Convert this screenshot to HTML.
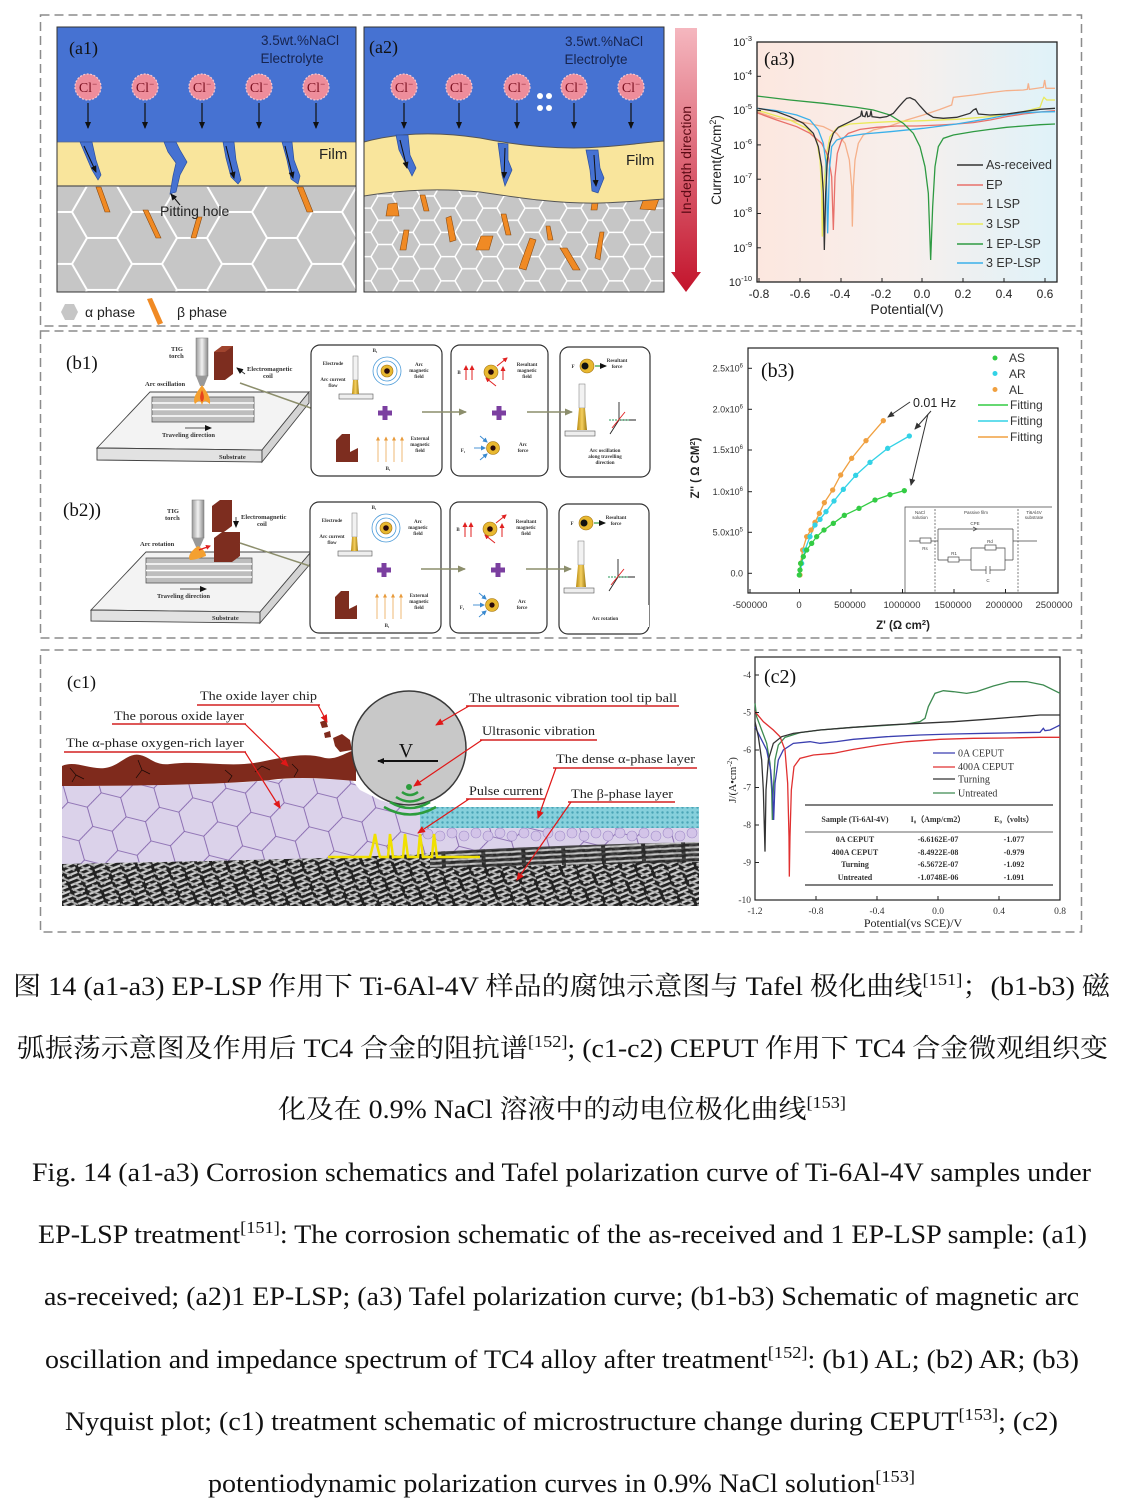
<!DOCTYPE html>
<html><head><meta charset="utf-8">
<style>
html,body{margin:0;padding:0;background:#fff;}
svg{display:block;}
.s{font-family:"Liberation Sans",sans-serif;}
.r{font-family:"Liberation Serif",serif;}
.cn{font-family:"Liberation Serif","Noto Serif CJK SC",serif;}
g.sc *{vector-effect:non-scaling-stroke;}
</style></head><body>
<svg width="1132" height="1505" viewBox="0 0 1132 1505" xmlns="http://www.w3.org/2000/svg">
<defs>
 <pattern id="hexA" width="90" height="51.96" patternUnits="userSpaceOnUse" x="57" y="186">
  <path d="M30,0 L60,0 L75,25.98 L60,51.96 L30,51.96 L15,25.98 Z M0,25.98 L15,25.98 M75,25.98 L90,25.98" fill="none" stroke="#fff" stroke-width="2"/>
 </pattern>
 <pattern id="hexB" width="42" height="24.25" patternUnits="userSpaceOnUse" x="364" y="196">
  <path d="M14,0 L28,0 L35,12.12 L28,24.25 L14,24.25 L7,12.12 Z M0,12.12 L7,12.12 M35,12.12 L42,12.12" fill="none" stroke="#fff" stroke-width="1.5"/>
 </pattern>
 <pattern id="grain" width="60" height="34.64" patternUnits="userSpaceOnUse" patternTransform="rotate(14)">
  <rect width="60" height="34.64" fill="#dbd2ea"/>
  <path d="M20,0 L40,0 L50,17.32 L40,34.64 L20,34.64 L10,17.32 Z M0,17.32 L10,17.32 M50,17.32 L60,17.32" fill="none" stroke="#7b5aa6" stroke-width="0.8"/>
 </pattern>
 <pattern id="rods1" width="14" height="5" patternUnits="userSpaceOnUse" patternTransform="rotate(-22)">
  <rect width="14" height="5" fill="#222"/>
  <rect x="0" y="1.3" width="11" height="2.2" fill="#cfcfcf"/>
 </pattern>
 <pattern id="rods2" width="17" height="6" patternUnits="userSpaceOnUse" patternTransform="rotate(24)">
  <rect x="2" y="1.8" width="12" height="1.8" fill="#b0b0b0"/>
 </pattern>
 <pattern id="rods3" width="40" height="5" patternUnits="userSpaceOnUse" patternTransform="rotate(-3)">
  <rect width="40" height="5" fill="#2a2a2a"/>
  <rect x="0" y="1.4" width="36" height="2" fill="#c8c8c8"/>
 </pattern>
 <pattern id="dense" width="5" height="5" patternUnits="userSpaceOnUse">
  <rect width="5" height="5" fill="#86d0dc"/>
  <circle cx="2.5" cy="2.5" r="1.2" fill="#4aa4b6"/>
 </pattern>
 <linearGradient id="redArrow" x1="0" y1="0" x2="0" y2="1">
  <stop offset="0" stop-color="#f5b7bf"/><stop offset="1" stop-color="#c3142c"/>
 </linearGradient>
 <linearGradient id="a3bg" x1="0" y1="0" x2="1" y2="0">
  <stop offset="0" stop-color="#fce7df"/><stop offset="0.5" stop-color="#f7efec"/><stop offset="1" stop-color="#dff2f9"/>
 </linearGradient>
 <linearGradient id="torch" x1="0" y1="0" x2="1" y2="0">
  <stop offset="0" stop-color="#9a9a9a"/><stop offset="0.5" stop-color="#f2f2f2"/><stop offset="1" stop-color="#8a8a8a"/>
 </linearGradient>
 <linearGradient id="gold" x1="0" y1="0" x2="1" y2="0">
  <stop offset="0" stop-color="#b88a10"/><stop offset="0.5" stop-color="#f5d060"/><stop offset="1" stop-color="#a07a10"/>
 </linearGradient>
 <clipPath id="clA1"><rect x="57" y="27" width="299" height="265"/></clipPath>
 <clipPath id="clA2"><rect x="364" y="27" width="300" height="265"/></clipPath>
 <clipPath id="clC1"><rect x="62" y="680" width="637" height="226"/></clipPath>
 <marker id="ahK" markerUnits="userSpaceOnUse" markerWidth="7" markerHeight="7" refX="6" refY="3.5" orient="auto"><path d="M0,0.5 L7,3.5 L0,6.5 Z" fill="#111"/></marker>
 <marker id="ahR" markerUnits="userSpaceOnUse" markerWidth="8" markerHeight="8" refX="7" refY="4" orient="auto"><path d="M0,0.5 L8,4 L0,7.5 Z" fill="#e01818"/></marker>
 <marker id="ahG" markerUnits="userSpaceOnUse" markerWidth="8" markerHeight="8" refX="7" refY="4" orient="auto"><path d="M0,0.5 L8,4 L0,7.5 Z" fill="#8c8e6c"/></marker>
 <marker id="ahD" markerUnits="userSpaceOnUse" markerWidth="7" markerHeight="7" refX="6" refY="3.5" orient="auto"><path d="M0,0.5 L7,3.5 L0,6.5 Z" fill="#333"/></marker>
 <marker id="ahO" markerUnits="userSpaceOnUse" markerWidth="4" markerHeight="4" refX="3.5" refY="2" orient="auto"><path d="M0,0 L4,2 L0,4 Z" fill="#e89a3a"/></marker>
 <marker id="ahRs" markerUnits="userSpaceOnUse" markerWidth="5" markerHeight="5" refX="4" refY="2.5" orient="auto"><path d="M0,0 L5,2.5 L0,5 Z" fill="#e02020"/></marker>
 <marker id="ahB" markerUnits="userSpaceOnUse" markerWidth="5" markerHeight="5" refX="4" refY="2.5" orient="auto"><path d="M0,0 L5,2.5 L0,5 Z" fill="#3a8ad0"/></marker>
</defs>

<!-- dashed frames -->
<g fill="none" stroke="#8c8c8c" stroke-width="1.5" stroke-dasharray="9,5">
 <rect x="40.5" y="15" width="1041" height="311"/>
 <rect x="40.5" y="331" width="1041" height="307"/>
 <rect x="40.5" y="650" width="1041" height="282"/>
</g>

<!-- ===== a1 ===== -->
<g clip-path="url(#clA1)">
 <rect x="57" y="27" width="299" height="265" fill="#c6c6c6"/>
 <rect x="57" y="186" width="299" height="106" fill="url(#hexA)"/>
 <rect x="57" y="27" width="299" height="116" fill="#4672d2"/>
 <rect x="57" y="142" width="299" height="44" fill="#f9e59c"/>
 <line x1="57" y1="142" x2="356" y2="142" stroke="#5a6a8a" stroke-width="0.8"/>
 <line x1="57" y1="186" x2="356" y2="186" stroke="#555" stroke-width="1.2"/>
 <g fill="#4672d2" stroke="#2b4f9e" stroke-width="0.7">
  <path d="M80,142 L92,142 L96,160 L101,175 L98,180 L92,170 L86,156 Z"/>
  <path d="M164,142 L176,142 L180,150 L187,162 L180,175 L176,192 L170,194 L173,176 L176,163 L168,152 Z"/>
  <path d="M223,142 L234,142 L236,160 L241,180 L238,184 L231,177 L226,158 Z"/>
  <path d="M282,142 L292,142 L294,160 L300,176 L298,184 L291,179 L287,160 Z"/>
 </g>
 <g fill="#f08a24" stroke="#8a4a10" stroke-width="0.6">
  <path d="M96,187 L101,187 L110,212 L105,212 Z"/>
  <path d="M143,210 L148,210 L161,238 L156,238 Z"/>
  <path d="M197,217 L202,217 L196,238 L191,238 Z"/>
  <path d="M297,187 L303,187 L313,212 L307,212 Z"/>
 </g>
 <g stroke="#111" stroke-width="1" marker-end="url(#ahK)">
  <line x1="84" y1="146" x2="96" y2="172"/>
  <line x1="226" y1="146" x2="234" y2="178"/>
  <line x1="285" y1="146" x2="293" y2="178"/>
  <line x1="180" y1="205" x2="171" y2="194"/>
 </g>
</g>
<rect x="57" y="27" width="299" height="265" fill="none" stroke="#333" stroke-width="1"/>
<text class="r" x="69" y="54" font-size="18" fill="#111">(a1)</text>
<text class="s" x="300" y="45" font-size="13.5" fill="#17244e" text-anchor="middle">3.5wt.%NaCl</text>
<text class="s" x="292" y="63" font-size="13.5" fill="#17244e" text-anchor="middle">Electrolyte</text>
<text class="s" x="319" y="159" font-size="15" fill="#222">Film</text>
<text class="s" x="160" y="216" font-size="14" fill="#222">Pitting hole</text>

<!-- ===== a2 ===== -->
<g clip-path="url(#clA2)">
 <rect x="364" y="27" width="300" height="265" fill="#c6c6c6"/>
 <rect x="364" y="150" width="300" height="142" fill="url(#hexB)"/>
 <g fill="#f08a24" stroke="#8a4a10" stroke-width="0.6">
  <path d="M388,204 L397,203 L399,216 L386,216 Z"/>
  <path d="M420,195 L425,195 L429,211 L424,211 Z"/>
  <path d="M446,218 L451,216 L456,240 L450,242 Z"/>
  <path d="M404,230 L409,230 L406,250 L400,250 Z"/>
  <path d="M481,236 L493,236 L489,250 L476,250 Z"/>
  <path d="M501,214 L506,214 L511,235 L506,235 Z"/>
  <path d="M530,238 L536,240 L526,270 L519,268 Z"/>
  <path d="M546,226 L550,226 L553,240 L548,240 Z"/>
  <path d="M560,248 L567,248 L580,270 L573,270 Z"/>
  <path d="M600,232 L604,232 L600,260 L595,258 Z"/>
  <path d="M644,198 L660,196 L655,210 L640,209 Z"/>
  <path d="M592,203 L598,203 L597,210 L591,210 Z"/>
 </g>
 <path d="M364,27 H664 V141 C650,142 630,145 600,147 C560,150 520,146 480,138 C440,132 400,132 364,142 Z" fill="#4672d2"/>
 <path d="M364,142 C400,132 440,132 480,138 C520,146 560,150 600,147 C630,145 650,142 664,141 L664,199 C650,200 630,202 600,203 C560,204 520,198 480,192 C440,188 400,190 364,196 Z" fill="#f9e59c" stroke="#555" stroke-width="1"/>
 <g fill="#4672d2" stroke="#2b4f9e" stroke-width="0.7">
  <path d="M396,135 L408,135 L410,155 L416,168 L412,176 L405,162 L399,150 Z"/>
  <path d="M498,143 L508,144 L508,160 L512,170 L505,186 L502,175 L500,158 Z"/>
  <path d="M586,150 L598,150 L600,168 L604,178 L598,193 L592,191 L590,170 Z"/>
 </g>
 <g stroke="#111" stroke-width="1" marker-end="url(#ahK)">
  <line x1="400" y1="140" x2="407" y2="168"/>
  <line x1="505" y1="148" x2="504" y2="178"/>
  <line x1="594" y1="155" x2="596" y2="186"/>
 </g>
 <g fill="#fff"><circle cx="540" cy="96" r="3"/><circle cx="549" cy="96" r="3"/><circle cx="540" cy="108" r="3"/><circle cx="549" cy="108" r="3"/></g>
</g>
<rect x="364" y="27" width="300" height="265" fill="none" stroke="#333" stroke-width="1"/>
<text class="r" x="369" y="53" font-size="18" fill="#111">(a2)</text>
<text class="s" x="604" y="46" font-size="13.5" fill="#17244e" text-anchor="middle">3.5wt.%NaCl</text>
<text class="s" x="596" y="64" font-size="13.5" fill="#17244e" text-anchor="middle">Electrolyte</text>
<text class="s" x="626" y="165" font-size="15" fill="#222">Film</text>

<!-- Cl circles a1 & a2 -->
<g>
 <g fill="#ee8d9b" stroke="#f8c8cf" stroke-width="1.2" stroke-dasharray="2,1.5">
  <circle cx="88" cy="87" r="13"/><circle cx="145" cy="87" r="13"/><circle cx="202" cy="87" r="13"/><circle cx="259" cy="87" r="13"/><circle cx="316" cy="87" r="13"/>
  <circle cx="404" cy="87" r="13"/><circle cx="459" cy="87" r="13"/><circle cx="517" cy="87" r="13"/><circle cx="574" cy="87" r="13"/><circle cx="631" cy="87" r="13"/>
 </g>
 <g class="r" font-size="14" fill="#7a1020" text-anchor="middle">
  <text x="88" y="92">Cl<tspan font-size="9" dy="-5">−</tspan></text>
  <text x="145" y="92">Cl<tspan font-size="9" dy="-5">−</tspan></text>
  <text x="202" y="92">Cl<tspan font-size="9" dy="-5">−</tspan></text>
  <text x="259" y="92">Cl<tspan font-size="9" dy="-5">−</tspan></text>
  <text x="316" y="92">Cl<tspan font-size="9" dy="-5">−</tspan></text>
  <text x="404" y="92">Cl<tspan font-size="9" dy="-5">−</tspan></text>
  <text x="459" y="92">Cl<tspan font-size="9" dy="-5">−</tspan></text>
  <text x="517" y="92">Cl<tspan font-size="9" dy="-5">−</tspan></text>
  <text x="574" y="92">Cl<tspan font-size="9" dy="-5">−</tspan></text>
  <text x="631" y="92">Cl<tspan font-size="9" dy="-5">−</tspan></text>
 </g>
</g>

<!-- arrows down in a1/a2 -->
<g stroke="#111" stroke-width="1.2" marker-end="url(#ahK)">
 <line x1="88" y1="103" x2="88" y2="128"/><line x1="145" y1="103" x2="145" y2="128"/><line x1="202" y1="103" x2="202" y2="128"/><line x1="259" y1="103" x2="259" y2="128"/><line x1="316" y1="103" x2="316" y2="128"/>
 <line x1="404" y1="103" x2="404" y2="128"/><line x1="459" y1="103" x2="459" y2="128"/><line x1="517" y1="103" x2="517" y2="128"/><line x1="574" y1="103" x2="574" y2="128"/><line x1="631" y1="103" x2="631" y2="128"/>
</g>

<!-- in-depth arrow -->
<path d="M675,28 L697,28 L697,272 L701,272 L686,292 L671,272 L675,272 Z" fill="url(#redArrow)"/>
<text class="s" transform="translate(691,160) rotate(-90)" font-size="14" fill="#5a0a14" text-anchor="middle">In-depth direction</text>

<!-- legend a -->
<path d="M61,312 L65,304 L74,304 L78,312 L74,320 L65,320 Z" fill="#c6c6c6"/>
<text class="s" x="85" y="317" font-size="14" fill="#222">α phase</text>
<path d="M147,299 L152,298 L163,323 L158,325 Z" fill="#f08a24"/>
<text class="s" x="177" y="317" font-size="14" fill="#222">β phase</text>

<!-- ===== a3 chart ===== -->
<rect x="757" y="42" width="300" height="240" fill="url(#a3bg)"/>
<g class="sc" transform="translate(690,20) scale(0.33333)" fill="none" stroke-width="1.3">
 <polyline stroke="#f5b08a" points="200,275 260,295 330,305 400,320 440,340 465,370 478,420 485,500 487,620 490,500 495,420 505,370 520,345 550,330 600,318 650,300 700,285 750,268 785,255 790,232 850,225 900,218 950,212 1000,210 1012,208 1015,190 1018,208 1060,202 1064,180 1068,205 1095,205"/>
 <polyline stroke="#eaea5a" points="200,270 250,285 300,300 350,325 380,360 390,420 395,520 397,650 400,520 410,400 420,350 440,325 480,312 540,308 600,305 700,302 800,298 900,290 1000,275 1050,262 1058,240 1062,232 1070,240 1095,240"/>
 <polyline stroke="#e8706a" points="200,278 260,300 320,320 360,340 395,370 415,410 425,470 430,630 435,470 442,400 455,360 475,340 510,328 560,322 620,318 680,318 750,315 800,312 850,308 900,300 950,290 1000,282 1050,276 1095,272"/>
 <polyline stroke="#3ab0ea" points="200,265 260,272 320,285 360,300 385,330 400,370 408,430 413,640 418,450 425,380 440,360 470,350 520,342 600,335 700,325 800,312 900,295 950,285 1000,278 1050,276 1095,275"/>
 <polyline stroke="#2e9a42" points="200,228 300,240 400,250 500,262 550,270 600,285 640,310 670,340 690,380 705,440 715,520 722,720 728,560 735,440 745,380 760,355 790,345 850,335 900,328 950,322 1000,318 1050,314 1095,312"/>
 <polyline stroke="#333" points="205,265 260,275 300,290 340,310 370,340 385,380 395,440 400,520 403,690 407,520 412,420 420,370 430,340 445,322 470,310 500,295 512,288 515,272 518,288 525,290 530,274 533,290 540,288 543,272 546,290 570,293 590,290 610,280 625,262 640,245 650,235 660,233 668,237 675,240 690,258 710,280 730,292 760,295 800,292 840,280 850,270 858,266 865,282 900,285 950,282 1000,275 1050,268 1095,265"/>
</g>
<rect x="757" y="42" width="300" height="240" fill="none" stroke="#222" stroke-width="1.3"/>
<g stroke="#222" stroke-width="1">
 <line x1="759" y1="282" x2="759" y2="278"/><line x1="800" y1="282" x2="800" y2="278"/><line x1="841" y1="282" x2="841" y2="278"/><line x1="882" y1="282" x2="882" y2="278"/><line x1="922" y1="282" x2="922" y2="278"/><line x1="963" y1="282" x2="963" y2="278"/><line x1="1004" y1="282" x2="1004" y2="278"/><line x1="1045" y1="282" x2="1045" y2="278"/>
 <line x1="757" y1="76.3" x2="761" y2="76.3"/><line x1="757" y1="110.6" x2="761" y2="110.6"/><line x1="757" y1="144.9" x2="761" y2="144.9"/><line x1="757" y1="179.2" x2="761" y2="179.2"/><line x1="757" y1="213.5" x2="761" y2="213.5"/><line x1="757" y1="247.8" x2="761" y2="247.8"/>
</g>
<g class="s" font-size="11" fill="#222" text-anchor="end">
 <text x="752" y="46">10<tspan font-size="7.5" dy="-5">-3</tspan></text>
 <text x="752" y="80">10<tspan font-size="7.5" dy="-5">-4</tspan></text>
 <text x="752" y="114">10<tspan font-size="7.5" dy="-5">-5</tspan></text>
 <text x="752" y="149">10<tspan font-size="7.5" dy="-5">-6</tspan></text>
 <text x="752" y="183">10<tspan font-size="7.5" dy="-5">-7</tspan></text>
 <text x="752" y="217">10<tspan font-size="7.5" dy="-5">-8</tspan></text>
 <text x="752" y="252">10<tspan font-size="7.5" dy="-5">-9</tspan></text>
 <text x="752" y="286">10<tspan font-size="7.5" dy="-5">-10</tspan></text>
</g>
<g class="s" font-size="12" fill="#222" text-anchor="middle">
 <text x="759" y="298">-0.8</text><text x="800" y="298">-0.6</text><text x="840" y="298">-0.4</text><text x="881" y="298">-0.2</text><text x="922" y="298">0.0</text><text x="963" y="298">0.2</text><text x="1004" y="298">0.4</text><text x="1045" y="298">0.6</text>
</g>
<text class="s" x="907" y="314" font-size="14" fill="#222" text-anchor="middle">Potential(V)</text>
<text class="s" transform="translate(721,160) rotate(-90)" font-size="13.5" fill="#222" text-anchor="middle">Current(A/cm<tspan font-size="9" dy="-5">2</tspan><tspan dy="5">)</tspan></text>
<text class="r" x="764" y="65" font-size="19" fill="#111">(a3)</text>
<g stroke-width="1.6">
 <line x1="957" y1="165" x2="983" y2="165" stroke="#333"/>
 <line x1="957" y1="185" x2="983" y2="185" stroke="#e8706a"/>
 <line x1="957" y1="204" x2="983" y2="204" stroke="#f5b08a"/>
 <line x1="957" y1="224" x2="983" y2="224" stroke="#eaea5a"/>
 <line x1="957" y1="244" x2="983" y2="244" stroke="#2e9a42"/>
 <line x1="957" y1="263" x2="983" y2="263" stroke="#3ab0ea"/>
</g>
<g class="s" font-size="12.5" fill="#333">
 <text x="986" y="169">As-received</text><text x="986" y="189">EP</text><text x="986" y="208">1 LSP</text><text x="986" y="228">3 LSP</text><text x="986" y="248">1 EP-LSP</text><text x="986" y="267">3 EP-LSP</text>
</g>

<!-- ===== b1 / b2 ===== -->
<text class="r" x="66" y="369" font-size="19" fill="#111">(b1)</text>
<text class="r" x="63" y="516" font-size="19" fill="#111">(b2))</text>

<!-- b1 slab -->
<path d="M97,448 L150,392 L309,392 L262,450 Z" fill="#f3f3f3" stroke="#444" stroke-width="0.9"/>
<path d="M97,448 L262,450 L262,462 L97,460 Z" fill="#e2e2e2" stroke="#444" stroke-width="0.9"/>
<path d="M262,450 L309,392 L309,403 L262,462 Z" fill="#d4d4d4" stroke="#444" stroke-width="0.9"/>
<rect x="152" y="397" width="102" height="25" fill="#bdbdbd" stroke="#555" stroke-width="0.8"/>
<g stroke="#fff" stroke-width="1.5"><line x1="152" y1="403" x2="254" y2="403"/><line x1="152" y1="409.5" x2="254" y2="409.5"/><line x1="152" y1="416" x2="254" y2="416"/></g>
<line x1="185" y1="428" x2="211" y2="428" stroke="#222" stroke-width="0.8" marker-end="url(#ahK)"/>
<g class="r" font-weight="bold" font-size="6.5" fill="#333">
 <text x="162" y="437">Traveling direction</text>
 <text x="219" y="459">Substrate</text>
 <text x="171" y="351">TIG</text><text x="169" y="358">torch</text>
 <text x="247" y="371">Electromagnetic</text><text x="263" y="378">coil</text>
 <text x="145" y="386">Arc oscillation</text>
</g>
<rect x="196" y="338" width="12" height="38" fill="url(#torch)" stroke="#777" stroke-width="0.5"/>
<path d="M196,376 L208,376 L204,386 L200,386 Z" fill="#999"/>
<path d="M202,385 C197,392 192,398 195,404 C198,401 200,399 202,405 C204,399 206,401 210,404 C211,397 206,391 202,385 Z" fill="#f4a030"/>
<path d="M202,390 C200,395 199,399 202,402 C205,399 204,395 202,390 Z" fill="#e5431e"/>
<path d="M214,352 L222,346 L233,346 L233,374 L225,380 L214,380 Z" fill="#7d2d1f"/>
<path d="M214,352 L222,346 L233,346 L225,352 Z" fill="#a0442e"/>
<line x1="245" y1="374" x2="237" y2="368" stroke="#222" stroke-width="0.8" marker-end="url(#ahK)"/>
<line x1="240" y1="383" x2="322" y2="412" stroke="#8c8e6c" stroke-width="1.5" marker-end="url(#ahG)"/>

<!-- b2 slab -->
<path d="M91,610 L146,552 L311,552 L260,612 Z" fill="#f3f3f3" stroke="#444" stroke-width="0.9"/>
<path d="M91,610 L260,612 L260,623 L91,621 Z" fill="#e2e2e2" stroke="#444" stroke-width="0.9"/>
<path d="M260,612 L311,552 L311,563 L260,623 Z" fill="#d4d4d4" stroke="#444" stroke-width="0.9"/>
<rect x="146" y="558" width="106" height="25" fill="#bdbdbd" stroke="#555" stroke-width="0.8"/>
<g stroke="#fff" stroke-width="1.5"><line x1="146" y1="564" x2="252" y2="564"/><line x1="146" y1="570.5" x2="252" y2="570.5"/><line x1="146" y1="577" x2="252" y2="577"/></g>
<line x1="180" y1="589" x2="206" y2="589" stroke="#222" stroke-width="0.8" marker-end="url(#ahK)"/>
<g class="r" font-weight="bold" font-size="6.5" fill="#333">
 <text x="157" y="598">Traveling direction</text>
 <text x="212" y="620">Substrate</text>
 <text x="167" y="513">TIG</text><text x="165" y="520">torch</text>
 <text x="241" y="519">Electromagnetic</text><text x="257" y="526">coil</text>
 <text x="140" y="546">Arc rotation</text>
</g>
<rect x="192" y="500" width="12" height="38" fill="url(#torch)" stroke="#777" stroke-width="0.5"/>
<path d="M192,538 L204,538 L200,547 L196,547 Z" fill="#999"/>
<path d="M198,546 C192,550 187,556 190,560 C195,560 200,558 206,556 C206,552 202,548 198,546 Z" fill="#f4a030"/>
<path d="M199,550 L210,546" stroke="#e02020" stroke-width="1.2" marker-end="url(#ahRs)"/>
<path d="M212,506 L220,500 L232,500 L232,526 L224,532 L212,532 Z" fill="#7d2d1f"/>
<path d="M214,538 L222,532 L240,532 L240,556 L232,562 L214,562 Z" fill="#7d2d1f"/>
<line x1="236" y1="517" x2="236" y2="527" stroke="#222" stroke-width="0.8" marker-end="url(#ahK)"/>
<line x1="240" y1="543" x2="322" y2="570" stroke="#8c8e6c" stroke-width="1.5" marker-end="url(#ahG)"/>

<!-- boxes -->
<g id="bx">
 <g fill="#fff" stroke="#333" stroke-width="1.2">
  <rect x="311" y="345" width="131" height="131" rx="9"/>
  <rect x="451" y="345" width="97" height="131" rx="9"/>
  <rect x="560" y="347" width="90" height="130" rx="9"/>
 </g>
 <rect x="339" y="394" width="34" height="5" fill="#eee" stroke="#555" stroke-width="0.6"/>
 <rect x="353" y="356" width="5" height="24" fill="#f2f2f2" stroke="#777" stroke-width="0.5"/>
 <path d="M353,380 L358,380 L359,394 L352,394 Z" fill="url(#gold)"/>
 <circle cx="387" cy="371" r="14" fill="none" stroke="#4a9ad8" stroke-width="0.8"/>
 <circle cx="387" cy="371" r="10" fill="none" stroke="#4a9ad8" stroke-width="0.8"/>
 <circle cx="387" cy="371" r="6" fill="#e8b830" stroke="#a07010" stroke-width="0.6"/>
 <circle cx="387" cy="371" r="2.8" fill="#2a0a0a"/>
 <path d="M378,410.5 H392 V415.5 H378 Z M382.5,406 H387.5 V420 H382.5 Z" fill="#7b3fa0"/>
 <path d="M336,440 L342,434 L350,434 L350,452 L358,448 L358,462 L336,462 Z" fill="#7d2d1f"/>
 <g stroke="#e89a3a" stroke-width="0.7" marker-end="url(#ahO)">
  <line x1="378" y1="462" x2="378" y2="437"/><line x1="386" y1="462" x2="386" y2="437"/><line x1="394" y1="462" x2="394" y2="437"/><line x1="402" y1="462" x2="402" y2="437"/>
 </g>
 <g class="r" font-weight="bold" font-size="5" fill="#333" text-anchor="middle">
  <text x="333" y="365">Electrode</text><text x="333" y="381">Arc current</text><text x="333" y="387">flow</text>
  <text x="419" y="366">Arc</text><text x="419" y="372">magnetic</text><text x="419" y="378">field</text>
  <text x="420" y="440">External</text><text x="420" y="446">magnetic</text><text x="420" y="452">field</text>
  <text x="375" y="352">B₁</text><text x="388" y="470">B₁</text>
 </g>
 <line x1="422" y1="412" x2="466" y2="412" stroke="#8c8e6c" stroke-width="1.5" marker-end="url(#ahG)"/>
 <g stroke="#e02020" stroke-width="1" marker-end="url(#ahRs)">
  <line x1="466" y1="380" x2="466" y2="366"/><line x1="472" y1="380" x2="472" y2="366"/><line x1="503" y1="380" x2="503" y2="367"/>
  <line x1="497" y1="366" x2="507" y2="358"/><line x1="496" y1="386" x2="486" y2="378"/>
 </g>
 <circle cx="491" cy="372" r="7" fill="#e8b830" stroke="#a07010" stroke-width="0.6"/>
 <circle cx="491" cy="372" r="2.8" fill="#2a0a0a"/>
 <path d="M492,410.5 H506 V415.5 H492 Z M496.5,406 H501.5 V420 H496.5 Z" fill="#7b3fa0"/>
 <circle cx="493" cy="448" r="6.5" fill="#e8b830" stroke="#a07010" stroke-width="0.6"/>
 <circle cx="493" cy="448" r="2.6" fill="#2a0a0a"/>
 <g stroke="#3a8ad0" stroke-width="0.9" marker-end="url(#ahB)">
  <line x1="474" y1="448" x2="485" y2="448"/><line x1="480" y1="436" x2="487" y2="442"/><line x1="480" y1="460" x2="487" y2="454"/>
 </g>
 <g class="r" font-weight="bold" font-size="5" fill="#333" text-anchor="middle">
  <text x="527" y="366">Resultant</text><text x="527" y="372">magnetic</text><text x="527" y="378">field</text>
  <text x="523" y="446">Arc</text><text x="523" y="452">force</text>
  <text x="459" y="374">B</text><text x="463" y="452">F₁</text>
 </g>
 <line x1="527" y1="412" x2="572" y2="412" stroke="#8c8e6c" stroke-width="1.5" marker-end="url(#ahG)"/>
 <circle cx="587" cy="366" r="7" fill="#e8b830" stroke="#a07010" stroke-width="0.6"/>
 <circle cx="585" cy="366" r="3.5" fill="#111"/>
 <line x1="595" y1="366" x2="606" y2="366" stroke="#2a9a3a" stroke-width="1.2" marker-end="url(#ahK)"/>
 <rect x="579" y="384" width="6" height="24" fill="#f2f2f2" stroke="#777" stroke-width="0.5"/>
 <path d="M579,408 L585,408 L587,430 L577,430 Z" fill="url(#gold)"/>
 <rect x="565" y="431" width="30" height="5" fill="#eee" stroke="#555" stroke-width="0.6"/>
 <g stroke-width="0.9">
  <line x1="619" y1="420" x2="619" y2="402" stroke="#222"/>
  <line x1="619" y1="420" x2="636" y2="420" stroke="#222"/>
  <line x1="619" y1="420" x2="610" y2="434" stroke="#222"/>
  <line x1="609" y1="420" x2="629" y2="420" stroke="#2a9a5a" stroke-dasharray="2,1"/>
  <line x1="612" y1="428" x2="625" y2="412" stroke="#e02020"/>
 </g>
 <g class="r" font-weight="bold" font-size="5" fill="#333" text-anchor="middle">
  <text x="617" y="362">Resultant</text><text x="617" y="368">force</text>
  <text x="573" y="368">F</text>
  <text x="605" y="452">Arc oscillation</text><text x="605" y="458">along travelling</text><text x="605" y="464">direction</text>
 </g>
</g>
<use href="#bx" transform="translate(-1,157)"/>
<rect x="561" y="605" width="88" height="22" fill="#fff"/>
<text class="r" x="605" y="620" font-weight="bold" font-size="5" fill="#333" text-anchor="middle">Arc rotation</text>

<!-- ===== b3 chart ===== -->
<rect x="748" y="348" width="310" height="245" fill="#fff" stroke="#222" stroke-width="1.2"/>
<g stroke="#444" fill="none" stroke-width="0.7">
 <path d="M905,593 V507 H1052"/>
 <line x1="935" y1="509" x2="935" y2="593" stroke-dasharray="2,1.5"/>
 <line x1="1018" y1="509" x2="1018" y2="593" stroke-dasharray="2,1.5"/>
 <path d="M909,541 H938 M938,529 V560 M938,529 H1013 M1013,529 V560 M1013,541 H1037"/>
 <rect x="920" y="538" width="11" height="5" fill="#fff"/>
 <path d="M938,560 H948 M959,560 H971 M971,548 V570 M971,548 H985 M996,548 H1005 V570 M971,570 H986 M990,570 H1005 M1005,560 H1013"/>
 <rect x="948" y="557" width="11" height="5" fill="#fff"/>
 <rect x="985" y="545" width="11" height="5" fill="#fff"/>
 <path d="M986,566 V574 M990,566 V574"/>
 <path d="M973,527 L977,529 L973,531"/>
</g>
<g class="s" font-size="4.5" fill="#444" text-anchor="middle">
 <text x="920" y="514">NaCl</text><text x="920" y="519">solution</text>
 <text x="976" y="514">Passive film</text><text x="975" y="525">CPE</text>
 <text x="1034" y="514">Ti6Al4V</text><text x="1034" y="519">substrate</text>
 <text x="925" y="550">Rs</text><text x="954" y="555">R1</text><text x="990" y="543">Rd</text><text x="988" y="582">C</text>
</g>
<g class="sc" transform="translate(680,330) scale(0.33333)" stroke-width="1.3" fill="none">
 <polyline stroke="#f0a040" points="360,735 362,700 368,660 380,620 393,600 405,577 418,550 433,518 458,480 482,435 515,385 558,332 610,272"/>
 <polyline stroke="#33d2e6" points="360,735 365,700 375,660 390,620 405,585 420,568 438,545 462,513 490,478 527,436 570,397 623,355 688,318"/>
 <polyline stroke="#33cc44" points="358,735 360,720 362,700 370,680 380,660 395,640 410,620 432,600 460,580 493,556 537,535 585,510 630,494 673,482"/>
 <g fill="#f0a040" stroke="none">
  <circle cx="360" cy="735" r="8"/><circle cx="362" cy="700" r="8"/><circle cx="368" cy="660" r="8"/><circle cx="380" cy="620" r="8"/><circle cx="393" cy="600" r="8"/><circle cx="405" cy="577" r="8"/><circle cx="418" cy="550" r="8"/><circle cx="433" cy="518" r="8"/><circle cx="458" cy="480" r="8"/><circle cx="482" cy="435" r="8"/><circle cx="515" cy="385" r="8"/><circle cx="558" cy="332" r="8"/><circle cx="610" cy="272" r="8"/>
 </g>
 <g fill="#33d2e6" stroke="none">
  <circle cx="365" cy="700" r="8"/><circle cx="375" cy="660" r="8"/><circle cx="390" cy="620" r="8"/><circle cx="405" cy="585" r="8"/><circle cx="420" cy="568" r="8"/><circle cx="438" cy="545" r="8"/><circle cx="462" cy="513" r="8"/><circle cx="490" cy="478" r="8"/><circle cx="527" cy="436" r="8"/><circle cx="570" cy="397" r="8"/><circle cx="623" cy="355" r="8"/><circle cx="688" cy="318" r="8"/>
 </g>
 <g fill="#33cc44" stroke="none">
  <circle cx="358" cy="735" r="8"/><circle cx="360" cy="720" r="8"/><circle cx="362" cy="700" r="8"/><circle cx="370" cy="680" r="8"/><circle cx="380" cy="660" r="8"/><circle cx="395" cy="640" r="8"/><circle cx="410" cy="620" r="8"/><circle cx="432" cy="600" r="8"/><circle cx="460" cy="580" r="8"/><circle cx="493" cy="556" r="8"/><circle cx="537" cy="535" r="8"/><circle cx="585" cy="510" r="8"/><circle cx="630" cy="494" r="8"/><circle cx="673" cy="482" r="8"/>
 </g>
</g>
<g stroke="#222" stroke-width="1">
 <line x1="750" y1="593" x2="750" y2="589"/><line x1="799.5" y1="593" x2="799.5" y2="589"/><line x1="851" y1="593" x2="851" y2="589"/><line x1="902.5" y1="593" x2="902.5" y2="589"/><line x1="954" y1="593" x2="954" y2="589"/><line x1="1005.5" y1="593" x2="1005.5" y2="589"/>
 <line x1="748" y1="368.3" x2="752" y2="368.3"/><line x1="748" y1="409.3" x2="752" y2="409.3"/><line x1="748" y1="450" x2="752" y2="450"/><line x1="748" y1="491.7" x2="752" y2="491.7"/><line x1="748" y1="532.3" x2="752" y2="532.3"/><line x1="748" y1="573.3" x2="752" y2="573.3"/>
</g>
<g class="s" font-size="9" fill="#333" text-anchor="end">
 <text x="743" y="371.5">2.5x10<tspan font-size="6" dy="-4">6</tspan></text>
 <text x="743" y="412.5">2.0x10<tspan font-size="6" dy="-4">6</tspan></text>
 <text x="743" y="453">1.5x10<tspan font-size="6" dy="-4">6</tspan></text>
 <text x="743" y="495">1.0x10<tspan font-size="6" dy="-4">6</tspan></text>
 <text x="743" y="535.5">5.0x10<tspan font-size="6" dy="-4">5</tspan></text>
 <text x="743" y="576.5">0.0</text>
</g>
<g class="s" font-size="9.5" fill="#333" text-anchor="middle">
 <text x="750" y="608">-500000</text><text x="799" y="608">0</text><text x="850" y="608">500000</text><text x="902" y="608">1000000</text><text x="953" y="608">1500000</text><text x="1004" y="608">2000000</text><text x="1054" y="608">2500000</text>
</g>
<text class="s" x="903" y="629" font-size="11.5" font-weight="bold" fill="#222" text-anchor="middle">Z' (Ω cm<tspan font-size="7.5" dy="-4">2</tspan><tspan dy="4">)</tspan></text>
<text class="s" transform="translate(699,468) rotate(-90)" font-size="11.5" font-weight="bold" fill="#222" text-anchor="middle">Z'' ( Ω CM<tspan font-size="7.5" dy="-4">2</tspan><tspan dy="4">)</tspan></text>
<text class="r" x="761" y="377" font-size="20" fill="#111">(b3)</text>
<text class="s" x="913" y="407" font-size="12.5" fill="#222">0.01 Hz</text>
<g stroke="#333" stroke-width="1" marker-end="url(#ahD)">
 <line x1="910" y1="402" x2="888" y2="417"/>
 <line x1="931" y1="411" x2="915" y2="429"/>
 <line x1="928" y1="414" x2="911" y2="485"/>
</g>
<circle cx="995" cy="358" r="2.5" fill="#33cc44"/>
<circle cx="995" cy="373.5" r="2.5" fill="#33d2e6"/>
<circle cx="995" cy="389.5" r="2.5" fill="#f0a040"/>
<g stroke-width="1.6">
 <line x1="978" y1="405" x2="1008" y2="405" stroke="#33cc44"/>
 <line x1="978" y1="421" x2="1008" y2="421" stroke="#33d2e6"/>
 <line x1="978" y1="437" x2="1008" y2="437" stroke="#f0a040"/>
</g>
<g class="s" font-size="12" fill="#333">
 <text x="1009" y="362">AS</text><text x="1009" y="378">AR</text><text x="1009" y="394">AL</text>
 <text x="1010" y="409">Fitting</text><text x="1010" y="425">Fitting</text><text x="1010" y="441">Fitting</text>
</g>

<!-- ===== c1 ===== -->
<text class="r" x="67" y="688" font-size="18" fill="#111">(c1)</text>
<g clip-path="url(#clC1)">
 <path d="M62,784 L100,786 150,785 200,784 250,782 300,778 352,780 L360,790 380,800 400,806 420,807 L699,807 L699,866 L62,866 Z" fill="url(#grain)"/>
 <rect x="420" y="807" width="279" height="21" fill="url(#dense)"/>
 <g fill="#d3c4e8" stroke="#a08cc8" stroke-width="0.6">
  <circle cx="428" cy="834" r="5"/><circle cx="440" cy="836" r="5"/><circle cx="452" cy="833" r="5"/><circle cx="464" cy="836" r="5"/><circle cx="476" cy="833" r="5"/><circle cx="488" cy="836" r="5"/><circle cx="500" cy="833" r="5"/><circle cx="512" cy="836" r="5"/><circle cx="524" cy="833" r="5"/><circle cx="536" cy="836" r="5"/><circle cx="548" cy="833" r="5"/><circle cx="560" cy="836" r="5"/><circle cx="572" cy="833" r="5"/><circle cx="584" cy="836" r="5"/><circle cx="596" cy="833" r="5"/><circle cx="608" cy="836" r="5"/><circle cx="620" cy="833" r="5"/><circle cx="632" cy="836" r="5"/><circle cx="644" cy="833" r="5"/><circle cx="656" cy="836" r="5"/><circle cx="668" cy="833" r="5"/><circle cx="680" cy="836" r="5"/><circle cx="692" cy="833" r="5"/>
 </g>
 <path d="M62,864 C150,862 300,860 420,854 C500,849 600,846 699,842 L699,906 L62,906 Z" fill="url(#rods1)"/>
 <path d="M62,864 C150,862 300,860 420,854 C500,849 600,846 699,842 L699,906 L62,906 Z" fill="url(#rods2)"/>
 <path d="M430,852 C520,847 600,844 699,842 L699,862 L430,868 Z" fill="url(#rods3)" opacity="0.85"/>
 <path d="M62,766 C75,760 90,770 105,768 C120,766 128,752 140,755 C150,757 155,766 170,764 C200,760 230,768 260,762 C285,757 305,752 325,758 C338,760 345,752 356,750 L356,781 C330,779 300,776 270,780 C230,784 150,786 62,786 Z" fill="#7f2a1c"/>
 <g stroke="#1a0a06" stroke-width="0.7" fill="none">
  <path d="M70,768 L76,775 L72,782 M76,775 L84,779"/>
  <path d="M138,760 L142,770 L136,778 M142,770 L150,774"/>
  <path d="M225,770 L232,776 L228,782"/>
  <path d="M255,772 L262,766 L270,770"/>
  <path d="M292,764 L298,770 L294,777"/>
 </g>
 <g fill="#7f2a1c">
  <path d="M320,722 L326,720 L328,727 L322,728 Z"/>
  <path d="M324,733 L330,731 L331,737 L325,738 Z"/>
  <path d="M333,738 L342,734 L350,740 L352,750 L340,752 L335,746 Z"/>
 </g>
 <circle cx="409" cy="748" r="57" fill="#c8c8c8" stroke="#3a3a3a" stroke-width="1.5"/>
 <g fill="none" stroke="#2c9c3c" stroke-width="2.5">
  <path d="M402,792 Q410,798 418,792"/>
  <path d="M396,797 Q410,806 424,797"/>
  <path d="M390,802 Q410,814 430,802"/>
  <path d="M384,807 Q410,822 436,807"/>
 </g>
 <circle cx="409" cy="787" r="3" fill="#2c9c3c"/>
 <polyline points="328,857 370,857 373,845 375,834 377,845 380,857 388,857 390,834 393,857 403,857 405,834 408,857 418,857 420,834 423,857 432,857 434,834 437,857 480,857" fill="none" stroke="#f0e000" stroke-width="2.5"/>
</g>
<text class="r" x="406" y="757" font-size="20" fill="#111" text-anchor="middle">V</text>
<line x1="438" y1="761" x2="378" y2="761" stroke="#111" stroke-width="2" marker-end="url(#ahK)"/>
<g class="r" font-size="13" fill="#222">
 <text x="200" y="700" textLength="117" lengthAdjust="spacingAndGlyphs">The oxide layer chip</text>
 <text x="114" y="720" textLength="130" lengthAdjust="spacingAndGlyphs">The porous oxide layer</text>
 <text x="66" y="747" textLength="178" lengthAdjust="spacingAndGlyphs">The  α-phase oxygen-rich layer</text>
 <text x="469" y="702" textLength="208" lengthAdjust="spacingAndGlyphs">The ultrasonic vibration tool tip ball</text>
 <text x="482" y="735" textLength="113" lengthAdjust="spacingAndGlyphs">Ultrasonic vibration</text>
 <text x="556" y="763" textLength="139" lengthAdjust="spacingAndGlyphs">The dense α-phase layer</text>
 <text x="469" y="795" textLength="74" lengthAdjust="spacingAndGlyphs">Pulse current</text>
 <text x="571" y="798" textLength="102" lengthAdjust="spacingAndGlyphs">The β-phase layer</text>
</g>
<g stroke="#d42020" stroke-width="1.4">
 <line x1="197" y1="705" x2="320" y2="705"/>
 <line x1="112" y1="724" x2="246" y2="724"/>
 <line x1="64" y1="752" x2="246" y2="752"/>
 <line x1="466" y1="706" x2="679" y2="706"/>
 <line x1="480" y1="740" x2="597" y2="740"/>
 <line x1="553" y1="768" x2="697" y2="768"/>
 <line x1="466" y1="799" x2="545" y2="799"/>
 <line x1="568" y1="802" x2="675" y2="802"/>
</g>
<g stroke="#e01818" stroke-width="1.2" marker-end="url(#ahR)">
 <line x1="318" y1="705" x2="327" y2="722"/>
 <line x1="245" y1="724" x2="288" y2="766"/>
 <line x1="245" y1="752" x2="280" y2="808"/>
 <line x1="469" y1="706" x2="436" y2="725"/>
 <line x1="482" y1="740" x2="414" y2="786"/>
 <line x1="556" y1="768" x2="538" y2="818"/>
 <line x1="469" y1="799" x2="418" y2="833"/>
 <line x1="571" y1="802" x2="517" y2="880"/>
</g>

<!-- ===== c2 chart ===== -->
<rect x="755" y="657" width="305" height="243" fill="#fff" stroke="#222" stroke-width="1.2"/>
<g class="sc" transform="translate(720,650) scale(0.33333)" fill="none" stroke-width="1.3">
 <polyline stroke="#3d8a50" points="105,160 110,200 125,240 140,280 150,340 155,420 157,510 160,420 165,330 175,285 195,262 240,248 300,240 400,232 500,226 560,222 600,215 615,205 625,170 645,130 670,122 700,125 740,130 770,125 820,108 870,95 920,95 970,105 1020,130"/>
 <polyline stroke="#3b3fb0" points="105,230 120,260 140,300 152,360 158,430 161,510 165,400 175,330 190,300 220,280 270,275 300,280 350,275 400,268 500,260 600,255 700,252 800,250 900,248 960,247 970,235 975,242 990,240 1010,230 1020,225"/>
 <polyline stroke="#e03030" points="105,185 130,215 160,240 180,260 195,300 203,400 207,560 208,680 210,560 214,420 222,350 240,325 280,315 340,310 400,298 480,285 560,275 660,268 760,265 860,264 960,262 1020,262"/>
 <polyline stroke="#333" points="105,215 115,260 125,330 130,420 135,605 138,420 145,330 160,280 185,260 220,250 300,240 400,232 500,225 600,220 700,215 800,208 900,200 960,195 1020,195"/>
</g>
<g stroke="#222" stroke-width="1">
 <line x1="816" y1="900" x2="816" y2="896"/><line x1="877" y1="900" x2="877" y2="896"/><line x1="938" y1="900" x2="938" y2="896"/><line x1="999" y1="900" x2="999" y2="896"/>
 <line x1="755" y1="675" x2="759" y2="675"/><line x1="755" y1="712.5" x2="759" y2="712.5"/><line x1="755" y1="750" x2="759" y2="750"/><line x1="755" y1="787.5" x2="759" y2="787.5"/><line x1="755" y1="825" x2="759" y2="825"/><line x1="755" y1="862.5" x2="759" y2="862.5"/>
</g>
<g class="r" font-size="9.5" fill="#333" text-anchor="end">
 <text x="751" y="678">-4</text><text x="751" y="715.5">-5</text><text x="751" y="753">-6</text><text x="751" y="790.5">-7</text><text x="751" y="828">-8</text><text x="751" y="865.5">-9</text><text x="751" y="903">-10</text>
</g>
<g class="r" font-size="9.5" fill="#333" text-anchor="middle">
 <text x="755" y="914">-1.2</text><text x="816" y="914">-0.8</text><text x="877" y="914">-0.4</text><text x="938" y="914">0.0</text><text x="999" y="914">0.4</text><text x="1060" y="914">0.8</text>
</g>
<text class="r" x="913" y="927" font-size="12" fill="#222" text-anchor="middle">Potential(vs SCE)/V</text>
<text class="r" transform="translate(736,780) rotate(-90)" font-size="11" fill="#222" text-anchor="middle">J/(A•cm<tspan font-size="7" dy="-4">-2</tspan><tspan dy="4">)</tspan></text>
<text class="r" x="764" y="683" font-size="20" fill="#111">(c2)</text>
<g stroke-width="1.3">
 <line x1="933" y1="753" x2="955" y2="753" stroke="#3b3fb0"/>
 <line x1="933" y1="767" x2="955" y2="767" stroke="#e03030"/>
 <line x1="933" y1="779" x2="955" y2="779" stroke="#333"/>
 <line x1="933" y1="793" x2="955" y2="793" stroke="#3d8a50"/>
</g>
<g class="r" font-size="10" fill="#333">
 <text x="958" y="756.5">0A CEPUT</text><text x="958" y="770">400A CEPUT</text><text x="958" y="782.5">Turning</text><text x="958" y="796.5">Untreated</text>
</g>
<g stroke="#333">
 <line x1="805" y1="805" x2="1053" y2="805" stroke-width="1.3"/>
 <line x1="805" y1="832" x2="1053" y2="832" stroke-width="0.8"/>
 <line x1="805" y1="885" x2="1053" y2="885" stroke-width="1.3"/>
</g>
<g class="r" font-size="8" font-weight="bold" fill="#333" text-anchor="middle">
 <text x="855" y="822">Sample (Ti-6Al-4V)</text><text x="938" y="822">I₀（Amp/cm2）</text><text x="1014" y="822">E₀（volts）</text>
 <text x="855" y="842">0A CEPUT</text><text x="938" y="842">-6.6162E-07</text><text x="1014" y="842">-1.077</text>
 <text x="855" y="855">400A CEPUT</text><text x="938" y="855">-8.4922E-08</text><text x="1014" y="855">-0.979</text>
 <text x="855" y="867">Turning</text><text x="938" y="867">-6.5672E-07</text><text x="1014" y="867">-1.092</text>
 <text x="855" y="880">Untreated</text><text x="938" y="880">-1.0748E-06</text><text x="1014" y="880">-1.091</text>
</g>

<!-- ===== captions ===== -->
<g fill="#111">
 <text class="cn" x="13" y="995" font-size="26" textLength="1097" lengthAdjust="spacingAndGlyphs">图 14 (a1-a3) EP-LSP 作用下 Ti-6Al-4V 样品的腐蚀示意图与 Tafel 极化曲线<tspan dy="-10" font-size="17">[151]</tspan><tspan dy="10">；(b1-b3)  磁</tspan></text>
 <text class="cn" x="17" y="1057" font-size="26" textLength="1091" lengthAdjust="spacingAndGlyphs">弧振荡示意图及作用后 TC4 合金的阻抗谱<tspan dy="-10" font-size="17">[152]</tspan><tspan dy="10">; (c1-c2) CEPUT 作用下 TC4 合金微观组织变</tspan></text>
 <text class="cn" x="278" y="1118" font-size="26" textLength="568" lengthAdjust="spacingAndGlyphs">化及在 0.9% NaCl 溶液中的动电位极化曲线<tspan dy="-10" font-size="17">[153]</tspan></text>
 <text class="r" x="32" y="1181" font-size="26" textLength="1059" lengthAdjust="spacingAndGlyphs">Fig. 14 (a1-a3) Corrosion schematics and Tafel polarization curve of Ti-6Al-4V samples under</text>
 <text class="r" x="38" y="1243" font-size="26" textLength="1049" lengthAdjust="spacingAndGlyphs">EP-LSP treatment<tspan dy="-10" font-size="17">[151]</tspan><tspan dy="10">: The corrosion schematic of the as-received and 1 EP-LSP sample: (a1)</tspan></text>
 <text class="r" x="44" y="1305" font-size="26" textLength="1035" lengthAdjust="spacingAndGlyphs">as-received; (a2)1 EP-LSP; (a3) Tafel polarization curve; (b1-b3) Schematic of magnetic arc</text>
 <text class="r" x="45" y="1368" font-size="26" textLength="1034" lengthAdjust="spacingAndGlyphs">oscillation and impedance spectrum of TC4 alloy after treatment<tspan dy="-10" font-size="17">[152]</tspan><tspan dy="10">: (b1) AL; (b2) AR; (b3)</tspan></text>
 <text class="r" x="65" y="1430" font-size="26" textLength="993" lengthAdjust="spacingAndGlyphs">Nyquist plot; (c1) treatment schematic of microstructure change during CEPUT<tspan dy="-10" font-size="17">[153]</tspan><tspan dy="10">; (c2)</tspan></text>
 <text class="r" x="208" y="1492" font-size="26" textLength="707" lengthAdjust="spacingAndGlyphs">potentiodynamic polarization curves in 0.9% NaCl solution<tspan dy="-10" font-size="17">[153]</tspan></text>
</g>
</svg>
</body></html>
